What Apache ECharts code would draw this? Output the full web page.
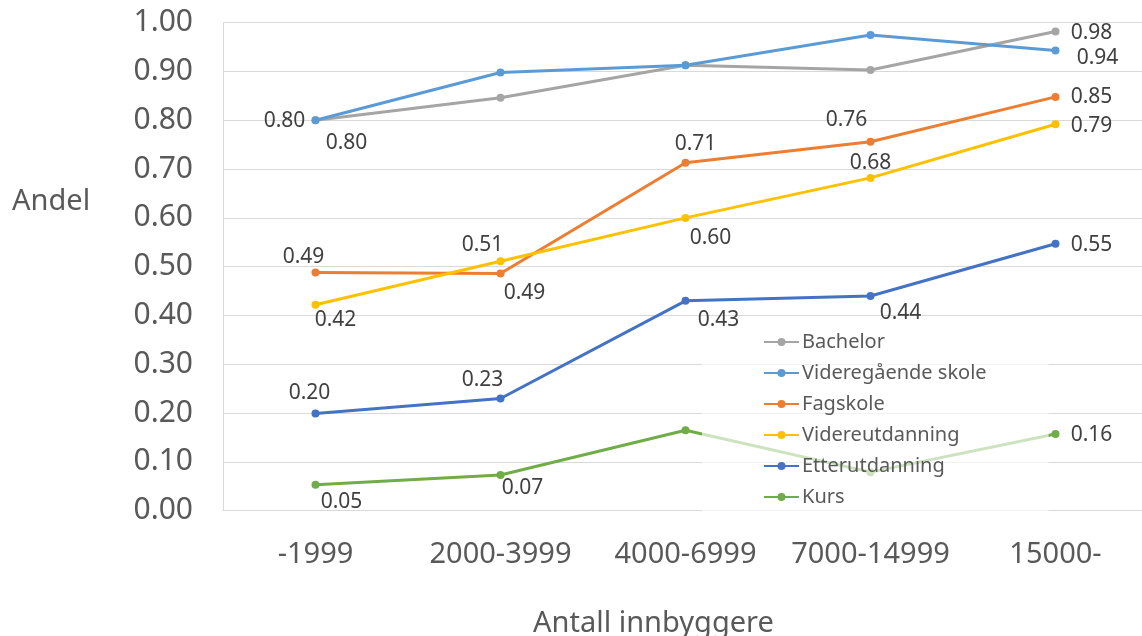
<!DOCTYPE html>
<html><head><meta charset="utf-8">
<script src="https://cdn.jsdelivr.net/npm/echarts@6/dist/echarts.min.js"></script>
<style>html,body{margin:0;padding:0;background:#fff}#c{width:1142px;height:636px}</style>
</head><body><div id="c"></div>
<script>
const categories = ['-1999', '2000-3999', '4000-6999', '7000-14999', '15000-'];
const bachelor = [0.80, 0.846, 0.913, 0.903, 0.982];
const videregaende = [0.80, 0.898, 0.913, 0.975, 0.943];
const fagskole = [0.488, 0.486, 0.713, 0.756, 0.848];
const videreutdanning = [0.422, 0.511, 0.600, 0.682, 0.792];
const etterutdanning = [0.199, 0.230, 0.430, 0.440, 0.547];
const kurs = [0.053, 0.073, 0.165, 0.079, 0.157];
const seriesNames = ['Bachelor', 'Videregående skole', 'Fagskole', 'Videreutdanning', 'Etterutdanning', 'Kurs'];
const seriesValues = [bachelor, videregaende, fagskole, videreutdanning, etterutdanning, kurs];
const colors = ['#A5A5A5', '#5B9BD5', '#ED7D31', '#FFC000', '#4472C4', '#70AD47'];

// label offsets (label centre relative to point), null = no label
const labelOffsets = [
  [[31, 23], null, null, null, [36, 2]],
  [[-31, 1], null, null, null, [42, 7]],
  [[-12, -16], [24, 19], [10, -19], [-24, -22], [36, 0]],
  [[20, 15], [-18, -16], [25, 20], [0, -15], [36, 2]],
  [[-6, -21], [-18, -18], [33, 19], [30, 17], [36, 1]],
  [[26, 17], [22, 13], null, null, [36, 1]]
];

const FONT = 'Noto Sans';
const series = seriesValues.map((vals, si) => ({
  name: seriesNames[si],
  type: 'line',
  symbol: 'circle',
  symbolSize: 8,
  lineStyle: { width: 3, color: colors[si] },
  itemStyle: { color: colors[si] },
  z: 2,
  data: vals.map((v, i) => {
    const off = labelOffsets[si][i];
    return {
      value: v,
      label: off ? {
        show: true, position: 'inside', offset: off,
        formatter: p => p.value.toFixed(2),
        color: '#404040', fontFamily: FONT, fontSize: 21,
        align: 'center', verticalAlign: 'middle'
      } : { show: false }
    };
  })
}));

const chart = echarts.init(document.getElementById('c'), null, { renderer: 'canvas' });
chart.setOption({
  animation: false,
  backgroundColor: '#fff',
  grid: { left: 223, top: 22.7, width: 925, height: 488, outerBoundsMode: 'none', containLabel: false },
  xAxis: {
    type: 'category', data: categories, boundaryGap: true,
    axisLine: { show: true, lineStyle: { color: '#D9D9D9', width: 1 } },
    axisTick: { show: false },
    axisLabel: { color: '#595959', fontFamily: FONT, fontSize: 29, margin: 30, interval: 0 }
  },
  yAxis: {
    type: 'value', min: 0, max: 1, interval: 0.1,
    axisLine: { show: true, lineStyle: { color: '#D9D9D9', width: 1 } },
    axisTick: { show: false },
    splitLine: { lineStyle: { color: '#D9D9D9', width: 1 } },
    axisLabel: { color: '#595959', fontFamily: FONT, fontSize: 30, margin: 30, formatter: v => v.toFixed(2) }
  },
  legend: {
    orient: 'vertical', left: 702, top: 326,
    data: seriesNames,
    backgroundColor: 'rgba(255,255,255,0.65)',
    padding: [6, 62, 7, 61],
    itemWidth: 35, itemHeight: 10, itemGap: 11,
    textStyle: { color: '#595959', fontFamily: FONT, fontSize: 20, padding: [0, 0, 0, -2] },
    z: 5
  },
  graphic: [
    { type: 'text', left: 12, top: 187, style: { text: 'Andel', fill: '#595959', font: '29px "Noto Sans"' } },
    { type: 'text', left: 533, top: 609, style: { text: 'Antall innbyggere', fill: '#595959', font: '29px "Noto Sans"' } }
  ],
  series: series
});
</script></body></html>
